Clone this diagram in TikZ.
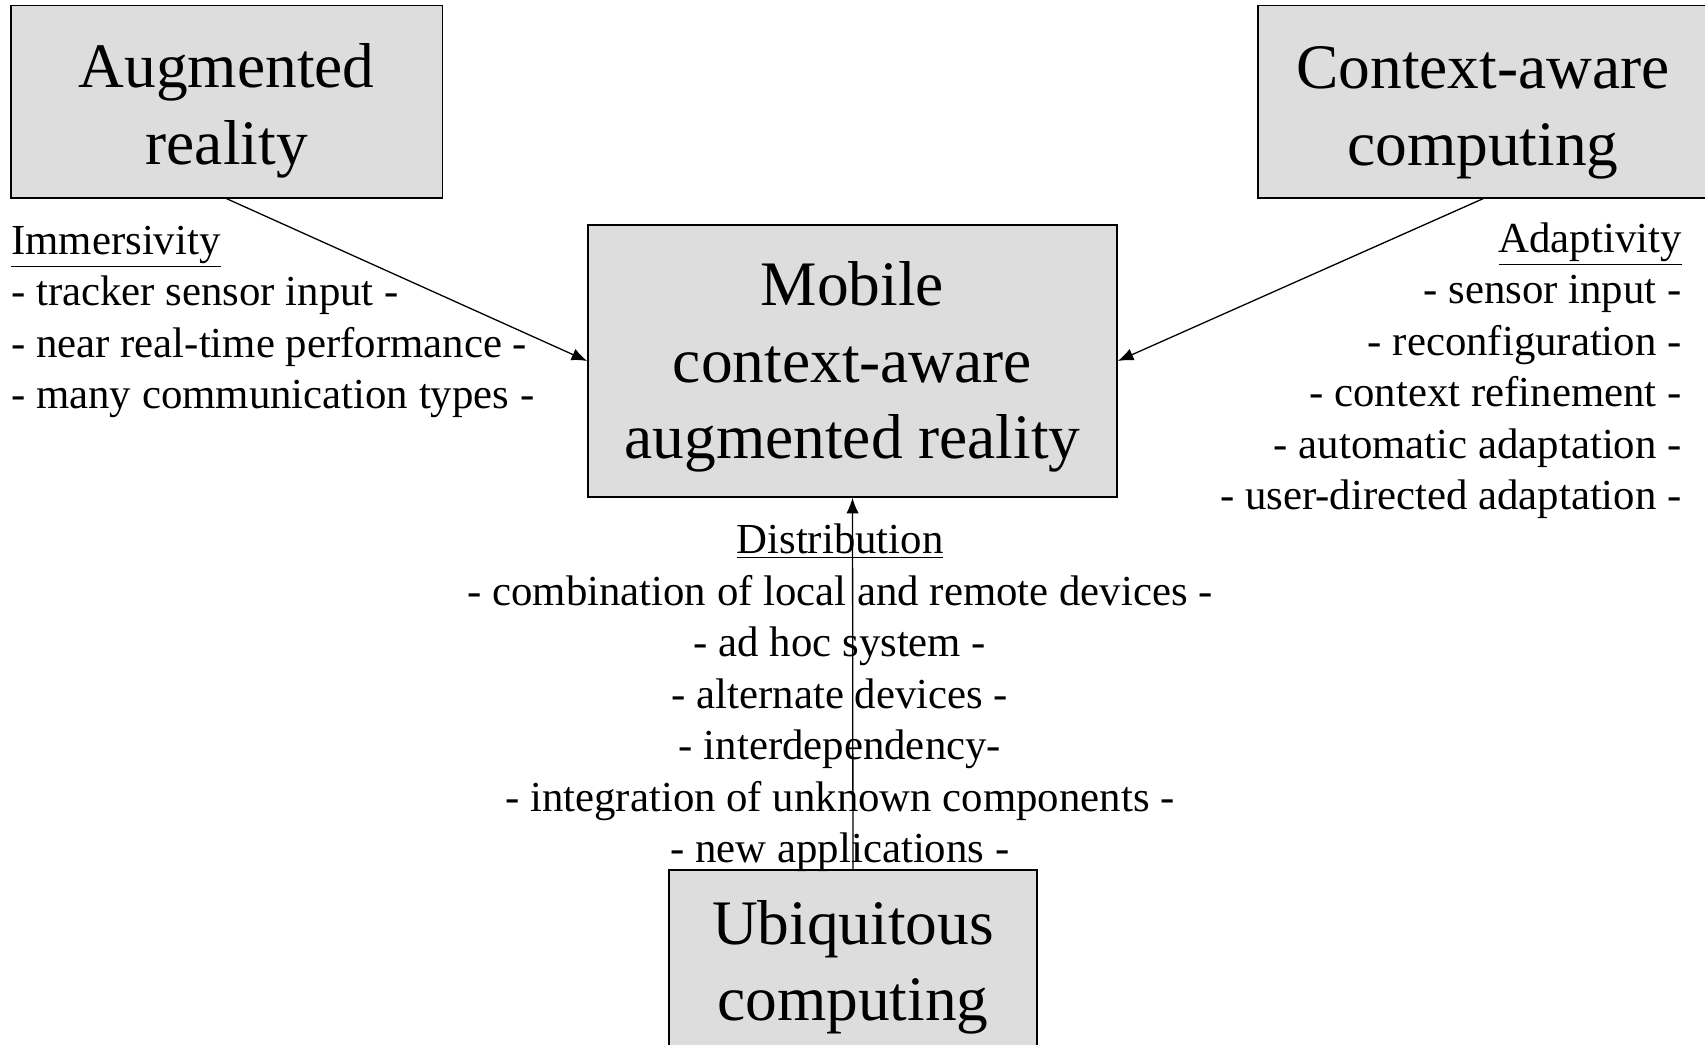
\documentclass[tikz,border=0pt]{standalone}
\usepackage{fontspec}
\setmainfont{Liberation Serif}
\usetikzlibrary{arrows.meta}
\definecolor{boxgray}{RGB}{221,221,221}

\begin{document}
\begin{tikzpicture}[x=0.5pt,y=0.5pt,yscale=-1,xscale=1,
  topicbox/.style={draw=black, fill=boxgray, line width=0.8pt, inner sep=0pt, align=center, font=\fontsize{31.7}{38.3}\selectfont},
  notes/.style={inner sep=0pt, font=\fontsize{21.4}{25.75}\selectfont},
  feed/.style={-{Latex[length=7.8pt,width=6.2pt]}, line width=0.65pt}]
\useasboundingbox (0,0) rectangle (1705,1045);
%Shape: Rectangle [id:ar]
\node [topicbox, minimum width=215.9pt, minimum height=96.2pt] (ar) at (226.7,101.7) {\rule{0pt}{31pt}Augmented\\reality};
%Shape: Rectangle [id:ca]
\node [topicbox, minimum width=225pt, minimum height=96.2pt] (ca) at (1483,101.7) {\rule{0pt}{32pt}Context-aware\\computing};
%Shape: Rectangle [id:mcar]
\node [topicbox, minimum width=264.5pt, minimum height=136pt] (mcar) at (852.5,361) {\rule{0pt}{28pt}Mobile\\context-aware\\augmented reality};
%Shape: Rectangle [id:uc]
\node [topicbox, minimum width=184.25pt, minimum height=92pt] (uc) at (853,962) {\rule{0pt}{27.5pt}Ubiquitous\\computing};
% Text Node (base = last line)
\node [notes, anchor=base west, align=left] (immersivity) at (10.9,408.6) {\underline{Immersivity}\\- tracker sensor input -\\- near real-time performance -\\- many communication types -};
% Text Node
\node [notes, anchor=base east, align=right] (adaptivity) at (1682,509.7) {\underline{Adaptivity}\\- sensor input -\\- reconfiguration -\\- context refinement -\\- automatic adaptation -\\- user-directed adaptation -};
% Text Node
\node [notes, anchor=base, align=center] (distribution) at (840,862.9) {\underline{Distribution}\\- combination of local and remote devices -\\- ad hoc system -\\- alternate devices -\\- interdependency-\\- integration of unknown components -\\- new applications -};
%Straight Lines
\draw [feed] (ar.south) -- (mcar.west);
\draw [feed] (ca.south) -- (mcar.east);
\draw [feed] (uc.north) -- (mcar.south);
\end{tikzpicture}
\end{document}
